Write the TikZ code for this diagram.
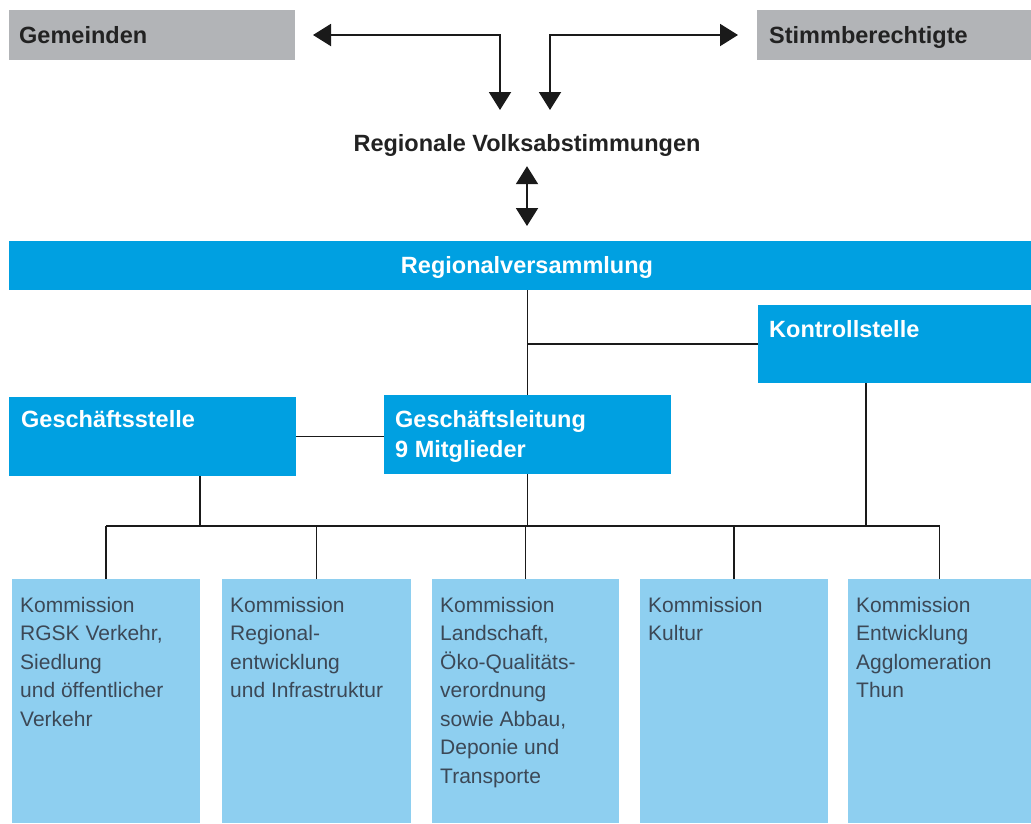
\documentclass[tikz,border=0pt]{standalone}
\usepackage{fontspec}
\setmainfont{Liberation Sans}
\usetikzlibrary{arrows.meta,calc}
\definecolor{grayb}{HTML}{B2B4B7}
\definecolor{blueb}{HTML}{00A0E1}
\definecolor{lightb}{HTML}{8ECFF0}
\definecolor{ctext}{HTML}{3C4856}
\definecolor{dtext}{HTML}{222222}
\definecolor{linec}{HTML}{1A1A1A}
\begin{document}
\begin{tikzpicture}[x=1pt,y=-1pt,
  rectbox/.style={rectangle,draw=none,anchor=north west,inner sep=0pt,outer sep=0pt},
  graybox/.style={rectbox,fill=grayb},
  bluebox/.style={rectbox,fill=blueb},
  combox/.style={rectbox,fill=lightb,minimum height=244pt},
  bolddark/.style={inner sep=0pt,font=\fontsize{23.5}{28}\selectfont\bfseries,text=dtext},
  boldwhite/.style={inner sep=0pt,font=\fontsize{23.5}{30}\selectfont\bfseries,text=white},
  comtext/.style={inner sep=0pt,anchor=north west,align=left,font=\fontsize{21}{28.5}\selectfont,text=ctext},
  conn/.style={draw=linec,line width=1.5pt},
  arr/.style={draw=linec,line width=2pt,{Triangle[length=18pt,width=22pt]}-{Triangle[length=18pt,width=22pt]}}
]
\useasboundingbox (0,0) rectangle (1031,823);

% top boxes
\node[graybox,minimum width=286pt,minimum height=50pt] (gem) at (9,10) {};
\node[bolddark,anchor=base west] (gemt) at (19,43) {Gemeinden};
\node[graybox,minimum width=274pt,minimum height=50pt] (stb) at (757,10) {};
\node[bolddark,anchor=base west] (stbt) at (769,43) {Stimmberechtigte};

\node[bolddark,anchor=base] (rv) at (527,151) {Regionale Volksabstimmungen};

% Regionalversammlung bar
\node[bluebox,minimum width=1022pt,minimum height=49pt] (bar) at (9,241) {};
\node[boldwhite,anchor=base] (bart) at (527,273) {Regionalversammlung};

% middle boxes
\node[bluebox,minimum width=273pt,minimum height=78pt] (kst) at (758,305) {};
\node[boldwhite,anchor=base west] (kstt) at (769,337) {Kontrollstelle};
\node[bluebox,minimum width=287pt,minimum height=79pt] (gst) at (9,397) {};
\node[boldwhite,anchor=base west] (gstt) at (21,427) {Geschäftsstelle};
\node[bluebox,minimum width=287pt,minimum height=79pt] (gl) at (384,395) {};
\node[boldwhite,anchor=base west] (glt1) at (395,427) {Geschäftsleitung};
\node[boldwhite,anchor=base west] (glt2) at (395,457) {9 Mitglieder};

% commission boxes
\node[combox,minimum width=188pt] (c1) at (12,579) {};
\node[combox,minimum width=189pt] (c2) at (222,579) {};
\node[combox,minimum width=187pt] (c3) at (432,579) {};
\node[combox,minimum width=188pt] (c4) at (640,579) {};
\node[combox,minimum width=183pt] (c5) at (848,579) {};
\node[comtext] (c1t) at (20,597) {Kommission\\RGSK Verkehr,\\Siedlung\\und öffentlicher\\Verkehr};
\node[comtext] (c2t) at (230,597) {Kommission\\Regional-\\entwicklung\\und Infrastruktur};
\node[comtext] (c3t) at (440,597) {Kommission\\Landschaft,\\Öko-Qualitäts-\\verordnung\\sowie Abbau,\\Deponie und\\Transporte};
\node[comtext] (c4t) at (648,597) {Kommission\\Kultur};
\node[comtext] (c5t) at (856,597) {Kommission\\Entwicklung\\Agglomeration\\Thun};

% arrows
\coordinate (t1) at (500,110);
\coordinate (t2) at (550,110);
\draw[arr,shorten >=18pt] (t1) |- (gem.east);
\draw[arr,shorten >=19pt] (t2) |- (stb.west);
\draw[arr,shorten <=10pt,shorten >=15pt] (rv.south) -- (rv.south |- bar.north);

% connectors
\coordinate (bus) at (0,526);
\draw[conn] (bar.south -| gl.north) -- (gl.north);
\draw[conn] (kst.west) -- (kst.west -| gl.north);
\draw[conn] (gst.east) -- (gst.east -| gl.west);
\draw[conn] (c1.north |- bus) -- (c5.north |- bus);
\foreach \c in {c1,c2,c3,c4,c5} \draw[conn] (\c.north) -- (\c.north |- bus);
\draw[conn] (gl.south) -- (gl.south |- bus);
\coordinate (gsd) at ($(gst.south west)!0.665!(gst.south east)$);
\draw[conn] (gsd) -- (gsd |- bus);
\coordinate (ksd) at ($(kst.south west)!0.396!(kst.south east)$);
\draw[conn] (ksd) -- (ksd |- bus);
\end{tikzpicture}
\end{document}
